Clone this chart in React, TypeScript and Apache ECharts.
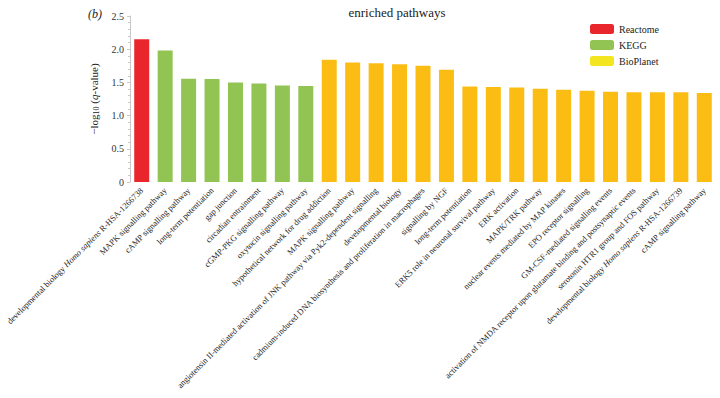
import React, { useEffect, useRef } from "react";
import * as echarts from "echarts";

const categories = [
  "developmental biology Homo sapiens R-HSA-1266738",
  "MAPK signalling pathway",
  "cAMP signalling pathway",
  "long-term potentiation",
  "gap junction",
  "circadian entrainment",
  "cGMP-PKG signalling pathway",
  "oxytocin signalling pathway",
  "hypothetical network for drug addiction",
  "MAPK signalling pathway ",
  "angiotensin II-mediated activation of JNK pathway via Pyk2-dependent signalling",
  "developmental biology",
  "cadmium-induced DNA biosynthesis and proliferation in macrophages",
  "signalling by NGF",
  "long-term potentiation ",
  "ERK5 role in neuronal survival pathway",
  "ERK activation",
  "MAPK/TRK pathway",
  "nuclear events mediated by MAP kinases",
  "EPO receptor signalling",
  "GM-CSF-mediated signalling events",
  "activation of NMDA receptor upon glutamate binding and postsynaptic events",
  "serotonin HTR1 group and FOS pathway",
  "developmental biology Homo sapiens R-HSA-1266739",
  "cAMP signalling pathway ",
];

const values = [
  2.15, 1.98, 1.555, 1.55, 1.5, 1.485, 1.455, 1.445,
  1.84, 1.8, 1.79, 1.775, 1.75, 1.69, 1.44, 1.43, 1.425, 1.405, 1.39, 1.375,
  1.36, 1.35, 1.35, 1.35, 1.34,
];

const groups = [
  "Reactome",
  "KEGG", "KEGG", "KEGG", "KEGG", "KEGG", "KEGG", "KEGG",
  "BioPlanet", "BioPlanet", "BioPlanet", "BioPlanet", "BioPlanet", "BioPlanet",
  "BioPlanet", "BioPlanet", "BioPlanet", "BioPlanet", "BioPlanet", "BioPlanet",
  "BioPlanet", "BioPlanet", "BioPlanet", "BioPlanet", "BioPlanet",
];

const sources = ["Reactome", "KEGG", "BioPlanet"];
const barColors: Record<string, string> = {
  Reactome: "#e8262b",
  KEGG: "#92c454",
  BioPlanet: "#fbbd14",
};
const legendColors: Record<string, string> = {
  Reactome: "#e8262b",
  KEGG: "#92c454",
  BioPlanet: "#f3e51f",
};

const yTicks = [0, 0.5, 1.0, 1.5, 2.0, 2.5];

const FONT = "'Liberation Serif', 'Times New Roman', serif";

export default function App() {
  const ref = useRef<HTMLDivElement>(null);
  useEffect(() => {
    document.body.style.margin = "0";
    if (!ref.current) return;
    const chart = echarts.init(ref.current, undefined, { renderer: "svg" });
    const series = sources.map((s) => ({
      name: s,
      type: "bar",
      stack: "all",
      barCategoryGap: "36%",
      itemStyle: { color: barColors[s] },
      data: values.map((v, i) => (groups[i] === s ? v : "-")),
    }));
    chart.setOption({
      animation: false,
      textStyle: { fontFamily: FONT },
      grid: {
        left: 130,
        right: 4,
        top: 16,
        bottom: 216,
        containLabel: false,
        outerBoundsMode: "none",
      },
      graphic: [
        {
          type: "text",
          x: 397,
          y: 6,
          style: {
            text: "enriched pathways",
            font: `13px ${FONT}`,
            fill: "#222",
            textAlign: "center",
          },
        },
        {
          type: "text",
          x: 88,
          y: 8,
          style: {
            text: "(b)",
            font: `italic 12px ${FONT}`,
            fill: "#222",
          },
        },
      ],
      legend: {
        orient: "vertical",
        left: 590,
        top: 24,
        padding: 0,
        itemWidth: 24,
        itemHeight: 10,
        itemGap: 6,
        textStyle: { fontFamily: FONT, fontSize: 10, color: "#222" },
        data: sources.map((s) => ({
          name: s,
          itemStyle: { color: legendColors[s] },
        })),
      },
      xAxis: {
        type: "category",
        data: categories,
        axisLine: { show: false },
        axisTick: { show: false },
        axisLabel: {
          interval: 0,
          rotate: 45,
          margin: 7,
          fontFamily: FONT,
          fontSize: 8.5,
          color: "#222",
          formatter: (v: string) =>
            v.trim().replace("Homo sapiens", "{i|Homo sapiens}"),
          rich: {
            i: { fontStyle: "italic", fontFamily: FONT, fontSize: 8.5, color: "#222" },
          },
        },
      },
      yAxis: {
        type: "value",
        min: 0,
        max: 2.5,
        interval: 0.5,
        name: "−log{sub|10} ({i|q}-value)",
        nameLocation: "middle",
        nameGap: 27,
        nameTextStyle: {
          fontFamily: FONT,
          fontSize: 11,
          color: "#222",
          rich: {
            sub: { fontSize: 8, fontFamily: FONT, color: "#222", padding: [5, 0, 0, 0] },
            i: { fontStyle: "italic", fontSize: 11, fontFamily: FONT, color: "#222" },
          },
        },
        axisLine: { show: true, lineStyle: { color: "#c8c8c8" } },
        axisTick: { show: true, length: 3, lineStyle: { color: "#c8c8c8" } },
        minorTick: { show: true, splitNumber: 5, length: 2, lineStyle: { color: "#c8c8c8" } },
        splitLine: { show: false },
        axisLabel: {
          margin: 6,
          fontFamily: FONT,
          fontSize: 10,
          color: "#333",
          formatter: (v: number) => (yTicks.indexOf(v) === 0 ? "0" : v.toFixed(1)),
        },
      },
      series,
    });
    return () => chart.dispose();
  }, []);
  return <div ref={ref} style={{ width: 720, height: 398 }} />;
}
